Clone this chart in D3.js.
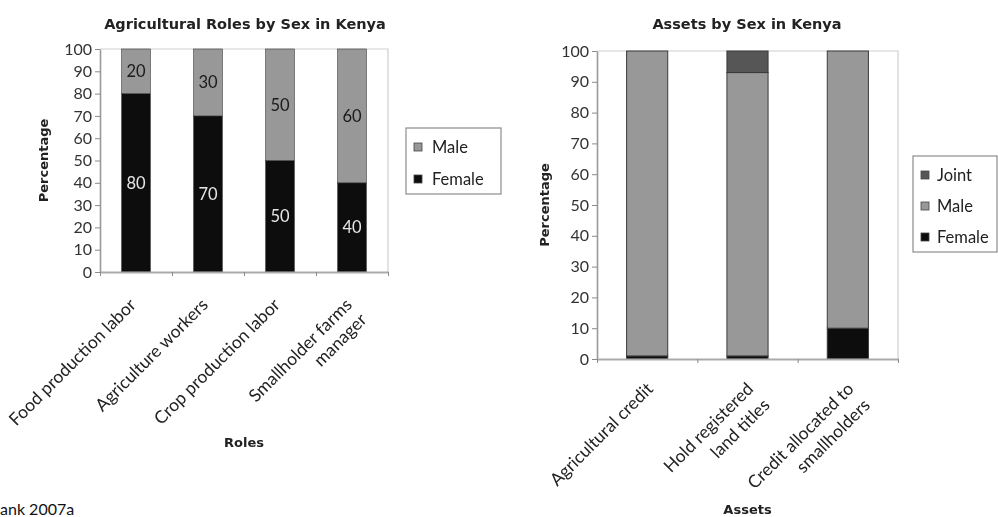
<!DOCTYPE html>
<html>
<head>
<meta charset="utf-8">
<script src="https://cdn.jsdelivr.net/npm/d3@7"></script>
<style>
  html, body { margin: 0; padding: 0; background: #fff; }
  svg { display: block; }
  text { font-family: Lato, "Open Sans", sans-serif; }
  .bold { font-family: "DejaVu Sans", Verdana, sans-serif; font-weight: bold; }
</style>
</head>
<body>
<svg id="chart" width="998" height="517"></svg>
<script>
// ---- Agricultural roles (percent of labour by sex) ----
const roleLabels = [
  ["Food production labor"],
  ["Agriculture workers"],
  ["Crop production labor"],
  ["Smallholder farms", "manager"]
];
const roleFemale = [80, 70, 50, 40];
const roleMale   = [20, 30, 50, 60];

// ---- Assets (percent held by sex) ----
const assetLabels = [
  ["Agricultural credit"],
  ["Hold registered", "land titles"],
  ["Credit allocated to", "smallholders"]
];
const assetFemale = [1, 1, 10];
const assetMale   = [99, 92, 90];
const assetJoint  = [0, 7, 0];

const yTicks = [0, 10, 20, 30, 40, 50, 60, 70, 80, 90, 100];

const colors = { Female: "#0d0d0d", Male: "#989898", Joint: "#575757" };

const svg = d3.select("#chart");
const defs = svg.append("defs");
defs.append("filter").attr("id", "soft")
  .attr("x", "-5%").attr("y", "-5%").attr("width", "110%").attr("height", "110%")
  .append("feGaussianBlur").attr("stdDeviation", 0.6);

function drawPanel(opt) {
  const g = svg.append("g").attr("filter", "url(#soft)");
  const names = opt.labels.map(l => l.join(" "));
  const rows = names.map((n, i) => {
    const r = { name: n };
    opt.keys.forEach(k => r[k] = opt.series[k][i]);
    return r;
  });

  const x = d3.scaleBand().domain(names)
    .range([opt.left, opt.right]).paddingInner(opt.pad).paddingOuter(opt.pad / 2);
  const y = d3.scaleLinear().domain([0, 100]).range([opt.bottom, opt.top]);
  const edge = d3.scaleLinear().domain([0, names.length]).range([opt.left, opt.right]);

  // plot frame (top and right)
  g.append("path")
    .attr("d", `M${opt.left},${opt.top}H${opt.right}V${opt.bottom}`)
    .attr("fill", "none").attr("stroke", "#cfcfcf").attr("stroke-width", 1.2);

  // stacked bars
  const stacked = d3.stack().keys(opt.keys)(rows);
  g.selectAll("g.layer").data(stacked).join("g")
    .attr("class", "layer")
    .attr("fill", d => colors[d.key])
    .selectAll("rect").data(d => d.filter(s => s[1] > s[0])).join("rect")
      .attr("x", d => x(d.data.name))
      .attr("width", x.bandwidth())
      .attr("y", d => y(d[1]))
      .attr("height", d => y(d[0]) - y(d[1]))
      .attr("stroke", "#3a3a3a").attr("stroke-width", opt.barStroke);

  // value labels
  if (opt.valueLabels) {
    stacked.forEach(layer => {
      g.selectAll(null).data(layer).join("text")
        .attr("x", d => x(d.data.name) + x.bandwidth() / 2)
        .attr("y", d => y((d[0] + d[1]) / 2))
        .attr("dy", "0.36em")
        .attr("text-anchor", "middle")
        .attr("font-size", 16.5)
        .attr("fill", layer.key === "Female" ? "#e6e6e6" : "#1a1a1a")
        .text(d => d[1] - d[0]);
    });
  }

  // y axis
  const ya = g.append("g").attr("transform", `translate(${opt.left},0)`)
    .call(d3.axisLeft(y).tickValues(yTicks).tickSize(5).tickPadding(3).tickSizeOuter(0));
  ya.select(".domain").attr("stroke", "#9a9a9a").attr("stroke-width", 1.6);
  ya.selectAll(".tick line").attr("stroke", "#8a8a8a");
  ya.selectAll(".tick text").attr("font-size", 16).attr("fill", "#333")
    .attr("font-family", "Lato, sans-serif");

  // x axis with tick marks on category boundaries
  const xa = g.append("g").attr("transform", `translate(0,${opt.bottom})`)
    .call(d3.axisBottom(edge).tickValues(d3.range(names.length + 1))
      .tickFormat("").tickSize(4).tickSizeOuter(0));
  xa.select(".domain").attr("stroke", "#aaaaaa").attr("stroke-width", 2.2);
  xa.selectAll(".tick line").attr("stroke", "#8a8a8a");

  // rotated category labels
  opt.labels.forEach((lines, i) => {
    const cx = x(names[i]) + x.bandwidth() / 2 + opt.lblDx;
    const t = g.append("text")
      .attr("transform", `translate(${cx},${opt.bottom + opt.lblDy}) rotate(-45)`)
      .attr("text-anchor", "end")
      .attr("font-size", opt.lblSize)
      .attr("fill", "#222");
    lines.forEach((ln, j) => {
      t.append("tspan").attr("x", 0).attr("y", j * opt.lblLine).text(ln);
    });
  });

  // titles
  g.append("text").attr("class", "bold").attr("x", opt.titleX).attr("y", 29)
    .attr("text-anchor", "middle")
    .attr("font-size", 14.5).attr("fill", "#222").text(opt.title);
  g.append("text").attr("class", "bold")
    .attr("transform", `translate(${opt.yTitleX},${(opt.top + opt.bottom) / 2}) rotate(-90)`)
    .attr("text-anchor", "middle")
    .attr("font-size", 13).attr("fill", "#222").text("Percentage");
  g.append("text").attr("class", "bold").attr("x", (opt.left + opt.right) / 2).attr("y", opt.xTitleY)
    .attr("text-anchor", "middle")
    .attr("font-size", 13).attr("fill", "#222").text(opt.xTitle);

  // legend
  const lg = g.append("g");
  lg.append("rect")
    .attr("x", opt.legend.x).attr("y", opt.legend.y)
    .attr("width", opt.legend.w).attr("height", opt.legend.h)
    .attr("fill", "#fff").attr("stroke", "#8c8c8c").attr("stroke-width", 1.2);
  const order = opt.keys.slice().reverse();
  order.forEach((k, j) => {
    const cy = opt.legend.y + opt.legend.first + j * opt.legend.step;
    lg.append("rect").attr("x", opt.legend.x + 8).attr("y", cy - 4)
      .attr("width", 8).attr("height", 8)
      .attr("fill", colors[k]).attr("stroke", "#444").attr("stroke-width", 0.8);
    lg.append("text").attr("x", opt.legend.x + opt.legend.textDx).attr("y", cy)
      .attr("dy", "0.36em").attr("font-size", 16.5).attr("fill", "#222").text(k);
  });
}

drawPanel({
  labels: roleLabels,
  keys: ["Female", "Male"],
  series: { Female: roleFemale, Male: roleMale },
  left: 100, right: 388, top: 49, bottom: 272, pad: 0.6,
  barStroke: 0.6, valueLabels: true,
  lblDx: 1, lblDy: 34, lblSize: 17.5, lblLine: 21,
  title: "Agricultural Roles by Sex in Kenya", titleX: 245,
  yTitleX: 48, xTitle: "Roles", xTitleY: 447,
  legend: { x: 406, y: 128, w: 95, h: 66, first: 19, step: 32, textDx: 26 }
});

drawPanel({
  labels: assetLabels,
  keys: ["Female", "Male", "Joint"],
  series: { Female: assetFemale, Male: assetMale, Joint: assetJoint },
  left: 597, right: 898, top: 51, bottom: 359, pad: 0.59,
  barStroke: 1, valueLabels: false,
  lblDx: 7, lblDy: 31, lblSize: 17.5, lblLine: 23,
  title: "Assets by Sex in Kenya", titleX: 747,
  yTitleX: 549, xTitle: "Assets", xTitleY: 514,
  legend: { x: 913, y: 156, w: 84, h: 96, first: 19, step: 31, textDx: 24 }
});

// source note
svg.append("text").attr("x", 0).attr("y", 515)
  .attr("font-family", "'Liberation Sans', Arial, sans-serif")
  .attr("font-size", 16).attr("fill", "#111").text("ank 2007a");
</script>
</body>
</html>
